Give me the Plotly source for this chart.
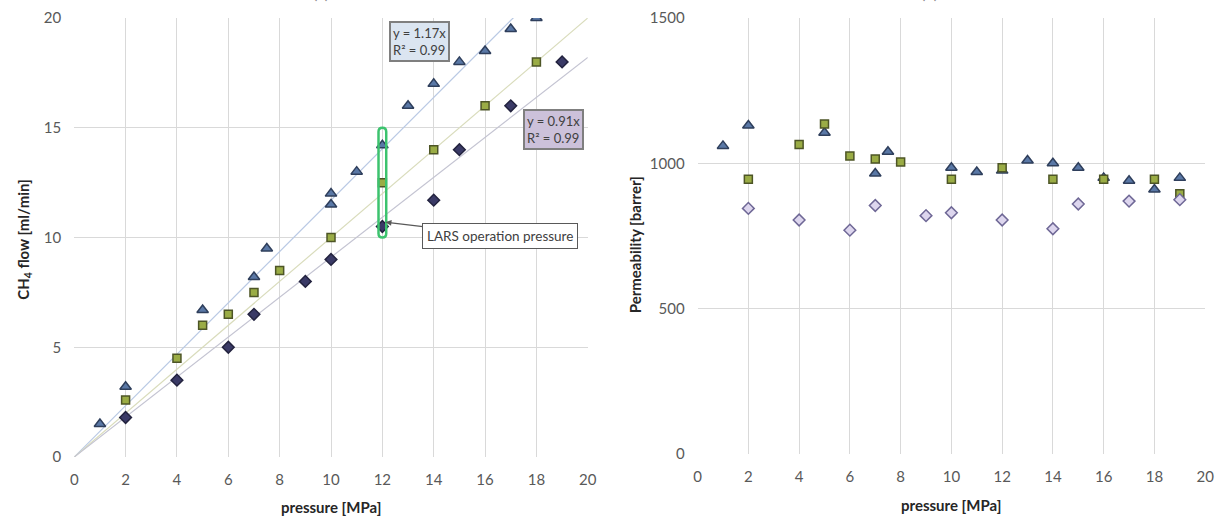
import plotly.graph_objects as go

# ---------------- data ----------------
# (a) CH4 flow [ml/min] vs pressure [MPa]
tri_a_x = [1, 2, 5, 7, 7.5, 10, 10, 11, 12, 13, 14, 15, 16, 17, 18]
tri_a_y = [1.5, 3.2, 6.7, 8.2, 9.5, 11.5, 12.0, 13.0, 14.2, 16.0, 17.0, 18.0, 18.5, 19.5, 20.0]
sq_a_x = [2, 4, 5, 6, 7, 8, 10, 12, 14, 16, 18]
sq_a_y = [2.6, 4.5, 6.0, 6.5, 7.5, 8.5, 10.0, 12.5, 14.0, 16.0, 18.0]
dia_a_x = [2, 4, 6, 7, 9, 10, 12, 14, 15, 17, 19]
dia_a_y = [1.8, 3.5, 5.0, 6.5, 8.0, 9.0, 10.5, 11.7, 14.0, 16.0, 18.0]
fit_slopes = [1.17, 1.0, 0.91]
fit_x = [0, 20]

# (b) Permeability [barrer] vs pressure [MPa]
tri_b_x = [1, 2, 5, 7, 7.5, 10, 11, 12, 13, 14, 15, 16, 17, 18, 19]
tri_b_y = [1060, 1130, 1105, 965, 1040, 985, 970, 975, 1010, 1000, 985, 950, 940, 910, 950]
sq_b_x = [2, 4, 5, 6, 7, 8, 10, 12, 14, 16, 18, 19]
sq_b_y = [945, 1065, 1135, 1025, 1015, 1005, 945, 985, 945, 945, 945, 895]
dia_b_x = [2, 4, 6, 7, 9, 10, 12, 14, 15, 17, 19]
dia_b_y = [845, 805, 770, 855, 820, 830, 805, 775, 860, 870, 875]

x_ticks = list(range(0, 21, 2))

FONT = "Lato, 'Open Sans', sans-serif"
TICKC = "#595959"
GRID = "#d9d9d9"

fig = go.Figure()

# trend lines (a)
line_cols = ["#b9c9e4", "#d9dcbc", "#c4c4d2"]
for s, c in zip(fit_slopes, line_cols):
    fig.add_trace(go.Scatter(x=fit_x, y=[v * s for v in fit_x], mode="lines",
                             line=dict(color=c, width=1.2), xaxis="x", yaxis="y",
                             hoverinfo="skip", showlegend=False))

def mk(sym, fill, edge, size=9):
    return dict(symbol=sym, color=fill, size=size, line=dict(color=edge, width=1.5))

fig.add_trace(go.Scatter(x=tri_a_x, y=tri_a_y, mode="markers", xaxis="x", yaxis="y",
                         marker=mk("triangle-up", "#5a78a6", "#2f3f5c", 10), showlegend=False))
fig.add_trace(go.Scatter(x=sq_a_x, y=sq_a_y, mode="markers", xaxis="x", yaxis="y",
                         marker=mk("square", "#9aac45", "#4d5526", 8), showlegend=False))
fig.add_trace(go.Scatter(x=dia_a_x, y=dia_a_y, mode="markers", xaxis="x", yaxis="y",
                         marker=mk("diamond", "#3a3a66", "#23233f", 9), showlegend=False))

fig.add_trace(go.Scatter(x=tri_b_x, y=tri_b_y, mode="markers", xaxis="x2", yaxis="y2",
                         marker=mk("triangle-up", "#5a78a6", "#2f3f5c", 10), showlegend=False))
fig.add_trace(go.Scatter(x=sq_b_x, y=sq_b_y, mode="markers", xaxis="x2", yaxis="y2",
                         marker=mk("square", "#9aac45", "#4d5526", 8), showlegend=False))
fig.add_trace(go.Scatter(x=dia_b_x, y=dia_b_y, mode="markers", xaxis="x2", yaxis="y2",
                         marker=mk("diamond", "#ddd6ee", "#6f6896", 9), showlegend=False))

W, H = 1232, 519
PH = 439
axcommon = dict(showgrid=True, gridcolor=GRID, gridwidth=1, zeroline=False,
                showline=False, ticks="", tickfont=dict(family=FONT, size=15, color=TICKC))

fig.update_layout(
    width=W, height=H,
    margin=dict(l=0, r=0, t=18, b=62),
    paper_bgcolor="white", plot_bgcolor="white",
    font=dict(family=FONT, color="#404040"),
    xaxis=dict(domain=[71 / W, 590 / W], range=[0, 20], tickvals=x_ticks, anchor="y",
               ticklabelstandoff=12, **axcommon),
    yaxis=dict(domain=[0, 1], range=[0, 20], tickvals=[0, 5, 10, 15, 20], anchor="x",
               ticklabelstandoff=12, **axcommon),
    xaxis2=dict(domain=[701 / W, 1214 / W], range=[0, 20], tickvals=x_ticks, anchor="y2",
                ticklabelstandoff=12, **axcommon),
    yaxis2=dict(domain=[3 / PH, 1], range=[0, 1500], tickvals=[0, 500, 1000, 1500], anchor="x2",
                ticklabelstandoff=12, **axcommon),
)

# green rounded marker around 12 MPa
fig.add_shape(type="path", xref="x", yref="y",
              path="M 11.85,10.18 L 11.85,14.82 Q 11.85,15 12,15 Q 12.15,15 12.15,14.82 "
                   "L 12.15,10.18 Q 12.15,10 12,10 Q 11.85,10 11.85,10.18 Z",
              line=dict(color="#3cc36e", width=2.5))

ann = []
# LARS annotation
ann.append(dict(x=12.12, y=10.7, xref="x", yref="y", ax=16.6, ay=10.07, axref="x", ayref="y",
                text="LARS operation pressure", showarrow=True, arrowhead=2, arrowsize=1,
                arrowwidth=1.2, arrowcolor="#595959", font=dict(family=FONT, size=13.5, color="#404040"),
                bgcolor="white", bordercolor="#595959", borderwidth=1, borderpad=4))
# equation boxes
ann.append(dict(x=13.45, y=18.95, xref="x", yref="y", showarrow=False,
                text="y = 1.17x<br>R² = 0.99", align="left",
                font=dict(family=FONT, size=13, color="#404040"),
                bgcolor="#dbe5f1", bordercolor="#7f7f7f", borderwidth=2, borderpad=2))
ann.append(dict(x=18.65, y=14.94, xref="x", yref="y", showarrow=False,
                text="y = 0.91x<br>R² = 0.99", align="left",
                font=dict(family=FONT, size=13, color="#404040"),
                bgcolor="#ccc1da", bordercolor="#7f7f7f", borderwidth=2, borderpad=2))
# axis titles
TF = dict(family=FONT, size=15, color="#262626")
ann.append(dict(x=20 / W, y=(457 - 239) / PH, xref="paper", yref="paper", showarrow=False, textangle=-90,
                xanchor="center", yanchor="middle",
                text="<b>CH<sub>4</sub> flow [ml/min]</b>", font=TF))
ann.append(dict(x=638 / W, y=(457 - 245) / PH, xref="paper", yref="paper", showarrow=False, textangle=-90,
                xanchor="center", yanchor="middle",
                text="<b>Permeability [barrer]</b>", font=TF))
ann.append(dict(x=330 / W, y=-(507 - 457) / PH, xref="paper", yref="paper", showarrow=False,
                xanchor="center", yanchor="middle",
                text="<b>pressure [MPa]</b>", font=TF))
ann.append(dict(x=957 / W, y=-(505 - 457) / PH, xref="paper", yref="paper", showarrow=False,
                xanchor="center", yanchor="middle",
                text="<b>pressure [MPa]</b>", font=TF))
# panel titles (mostly cut off at top, as in the reference)
ann.append(dict(x=320 / W, y=1 + 14 / PH, xref="paper", yref="paper", xanchor="center", yanchor="bottom",
                showarrow=False, text="(a)", font=dict(family=FONT, size=16, color="#8c8c8c")))
ann.append(dict(x=935 / W, y=1 + 14 / PH, xref="paper", yref="paper", xanchor="center", yanchor="bottom",
                showarrow=False, text="(b)", font=dict(family=FONT, size=16, color="#8c8c8c")))

fig.update_layout(annotations=ann)
fig.write_html("out.html")
